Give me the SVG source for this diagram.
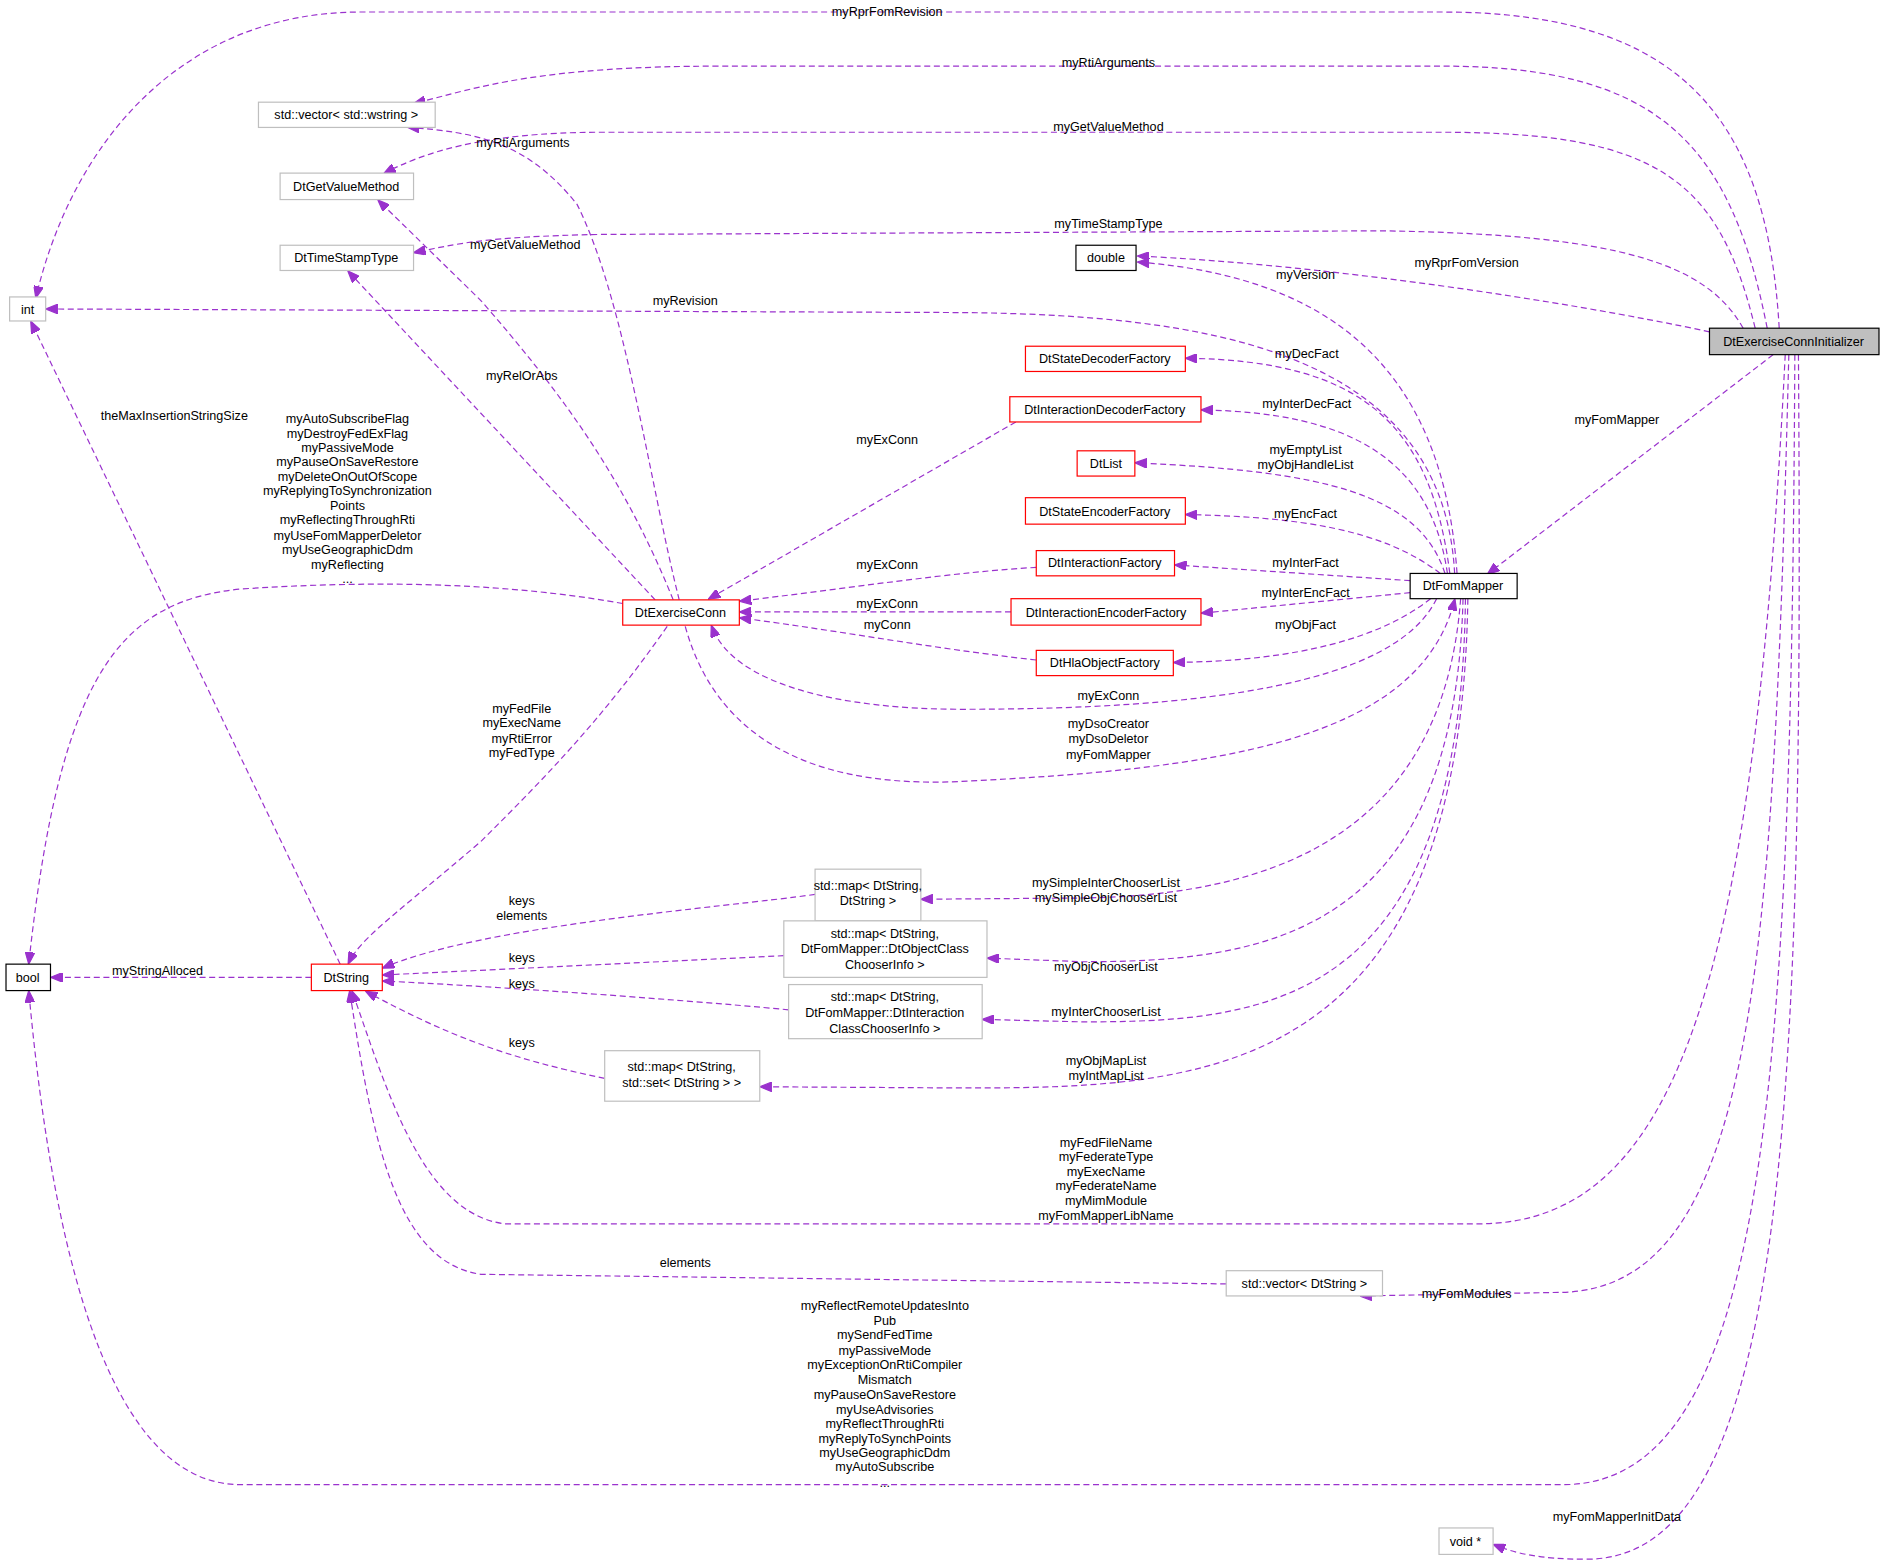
<svg xmlns="http://www.w3.org/2000/svg" width="1885" height="1566" viewBox="0 0 1885 1566">
<style>
text{font-family:"Liberation Sans",Arial,sans-serif;font-size:10.5px;fill:#000}
.n text{text-anchor:middle}
.l{text-anchor:middle}
.g{fill:#fff;stroke:#bfbfbf;stroke-width:1}
.r{fill:#fff;stroke:#ff0000;stroke-width:1}
.b{fill:#fff;stroke:#000;stroke-width:1}
.e path{fill:none;stroke:#9a32cd;stroke-width:1;stroke-dasharray:5,3;marker-end:url(#a)}
</style>
<defs><marker id="a" markerWidth="10" markerHeight="8" refX="9" refY="4" orient="auto" markerUnits="userSpaceOnUse"><path d="M0,0 L10,4 L0,8 z" fill="#9a32cd" stroke="#9a32cd"/></marker></defs>
<rect width="1885" height="1566" fill="#fff"/>
<g transform="scale(1.20217)">
<g class="e" id="edges">
<path d="M1480,273 C1470,100 1400,10 1200,10 L300,10 C150,10 60,120 30,247"/>
<path d="M1470,273 C1440,120 1380,55 1200,55 L600,55 C450,55 400,72 345,86"/>
<path d="M1460,273 C1430,150 1380,110 1200,110 L500,110 C400,110 350,128 320,144"/>
<path d="M1450,273 C1420,220 1350,195 1150,192 L500,195 C400,197 380,203 345,210"/>
<path d="M1422,276 C1300,250 1100,220 947,213"/>
<path d="M1475,295 L1238,477"/>
<path d="M1488,295 C1475,800 1460,1070 1300,1075 L1132,1078"/>
<path d="M1485,295 C1460,800 1400,1018 1230,1018 L420,1018 C350,1010 320,900 293,825"/>
<path d="M1493,295 C1490,900 1470,1235 1300,1235 L200,1235 C80,1235 40,1000 24,825"/>
<path d="M1496,295 C1500,900 1490,1297 1320,1297 C1280,1297 1260,1292 1243,1285"/>
<path d="M1210,477 C1200,290 1000,262 800,260 L39,257"/>
<path d="M1212,477 C1200,300 1100,230 947,218"/>
<path d="M1206,477 C1190,350 1130,300 987,298"/>
<path d="M1204,477 C1190,380 1120,343 1000,341"/>
<path d="M1202,477 C1180,410 1100,392 945,385"/>
<path d="M1198,477 C1150,440 1080,430 987,428"/>
<path d="M1173,483 L978,470"/>
<path d="M1173,493 L1000,510"/>
<path d="M1190,498 C1150,530 1080,550 977,551"/>
<path d="M1195,498 C1160,570 1000,590 800,590 C700,590 610,570 592,521"/>
<path d="M570,521 C600,630 700,655 800,650 C1000,640 1180,620 1210,499"/>
<path d="M1215,498 C1200,700 1050,745 900,747 L767,748"/>
<path d="M1217,498 C1210,780 1050,800 900,800 L822,797"/>
<path d="M1219,498 C1215,840 1050,850 900,850 L818,848"/>
<path d="M1221,498 C1215,900 1000,905 800,905 L633,904"/>
<path d="M565,499 C540,400 520,250 480,170 C440,120 400,110 340,106"/>
<path d="M560,499 C520,400 470,330 400,250 L315,167"/>
<path d="M545,499 L290,226"/>
<path d="M518,502 C450,490 350,480 200,490 C100,500 50,560 24,801"/>
<path d="M555,521 C500,600 450,650 400,700 C330,760 300,780 290,801"/>
<path d="M845,351 L590,498"/>
<path d="M862,472 C800,475 700,490 616,500"/>
<path d="M841,509 L616,509"/>
<path d="M862,549 C780,540 700,525 616,514"/>
<path d="M283,802 L26,268"/>
<path d="M259,813 L43,813"/>
<path d="M678,744 C600,755 400,770 319,805"/>
<path d="M652,795 L319,811"/>
<path d="M656,840 C550,830 400,820 319,816"/>
<path d="M503,897 C420,880 370,860 305,825"/>
<path d="M1020,1068 L400,1060 C330,1050 310,950 291,825"/>
</g>
<g id="labels">
<text class="l" x="738" y="13">myRprFomRevision</text>
<text class="l" x="922" y="56">myRtiArguments</text>
<text class="l" x="922" y="109">myGetValueMethod</text>
<text class="l" x="922" y="190">myTimeStampType</text>
<text class="l" x="1220" y="222">myRprFomVersion</text>
<text class="l" x="1345" y="353">myFomMapper</text>
<text class="l" x="1220" y="1080">myFomModules</text>
<text class="l" x="1345" y="1265">myFomMapperInitData</text>
<text class="l" x="570" y="254">myRevision</text>
<text class="l" x="1086" y="232">myVersion</text>
<text class="l" x="1087" y="298">myDecFact</text>
<text class="l" x="1087" y="339">myInterDecFact</text>
<text class="l" x="1086" y="378">myEmptyList</text>
<text class="l" x="1086" y="390">myObjHandleList</text>
<text class="l" x="1086" y="431">myEncFact</text>
<text class="l" x="1086" y="472">myInterFact</text>
<text class="l" x="1086" y="497">myInterEncFact</text>
<text class="l" x="1086" y="523">myObjFact</text>
<text class="l" x="922" y="582">myExConn</text>
<text class="l" x="922" y="606">myDsoCreator</text>
<text class="l" x="922" y="618">myDsoDeletor</text>
<text class="l" x="922" y="631">myFomMapper</text>
<text class="l" x="920" y="738">mySimpleInterChooserList</text>
<text class="l" x="920" y="750">mySimpleObjChooserList</text>
<text class="l" x="920" y="808">myObjChooserList</text>
<text class="l" x="920" y="845">myInterChooserList</text>
<text class="l" x="920" y="886">myObjMapList</text>
<text class="l" x="920" y="898">myIntMapList</text>
<text class="l" x="920" y="954">myFedFileName</text>
<text class="l" x="920" y="966">myFederateType</text>
<text class="l" x="920" y="978">myExecName</text>
<text class="l" x="920" y="990">myFederateName</text>
<text class="l" x="920" y="1002">myMimModule</text>
<text class="l" x="920" y="1015">myFomMapperLibName</text>
<text class="l" x="570" y="1054">elements</text>
<text class="l" x="736" y="1090">myReflectRemoteUpdatesInto</text>
<text class="l" x="736" y="1102">Pub</text>
<text class="l" x="736" y="1114">mySendFedTime</text>
<text class="l" x="736" y="1127">myPassiveMode</text>
<text class="l" x="736" y="1139">myExceptionOnRtiCompiler</text>
<text class="l" x="736" y="1151">Mismatch</text>
<text class="l" x="736" y="1164">myPauseOnSaveRestore</text>
<text class="l" x="736" y="1176">myUseAdvisories</text>
<text class="l" x="736" y="1188">myReflectThroughRti</text>
<text class="l" x="736" y="1200">myReplyToSynchPoints</text>
<text class="l" x="736" y="1212">myUseGeographicDdm</text>
<text class="l" x="736" y="1224">myAutoSubscribe</text>
<text class="l" x="736" y="1237">...</text>
<text class="l" x="435" y="122">myRtiArguments</text>
<text class="l" x="437" y="207">myGetValueMethod</text>
<text class="l" x="434" y="316">myRelOrAbs</text>
<text class="l" x="738" y="369">myExConn</text>
<text class="l" x="738" y="473">myExConn</text>
<text class="l" x="738" y="506">myExConn</text>
<text class="l" x="738" y="523">myConn</text>
<text class="l" x="145" y="349">theMaxInsertionStringSize</text>
<text class="l" x="289" y="352">myAutoSubscribeFlag</text>
<text class="l" x="289" y="364">myDestroyFedExFlag</text>
<text class="l" x="289" y="376">myPassiveMode</text>
<text class="l" x="289" y="388">myPauseOnSaveRestore</text>
<text class="l" x="289" y="400">myDeleteOnOutOfScope</text>
<text class="l" x="289" y="412">myReplyingToSynchronization</text>
<text class="l" x="289" y="424">Points</text>
<text class="l" x="289" y="436">myReflectingThroughRti</text>
<text class="l" x="289" y="449">myUseFomMapperDeletor</text>
<text class="l" x="289" y="461">myUseGeographicDdm</text>
<text class="l" x="289" y="473">myReflecting</text>
<text class="l" x="289" y="485">...</text>
<text class="l" x="434" y="593">myFedFile</text>
<text class="l" x="434" y="605">myExecName</text>
<text class="l" x="434" y="618">myRtiError</text>
<text class="l" x="434" y="630">myFedType</text>
<text class="l" x="131" y="811">myStringAlloced</text>
<text class="l" x="434" y="753">keys</text>
<text class="l" x="434" y="765">elements</text>
<text class="l" x="434" y="800">keys</text>
<text class="l" x="434" y="822">keys</text>
<text class="l" x="434" y="871">keys</text>
</g>
<g class="n" id="DtExerciseConnInitializer"><rect x="1422" y="273" width="141" height="22" fill="#bfbfbf" stroke="#000"/><text x="1492" y="288">DtExerciseConnInitializer</text></g>
<g class="n" id="int"><rect class="g" x="8" y="247" width="30" height="20"/><text x="23" y="261">int</text></g>
<g class="n" id="vecwstring"><rect class="g" x="215" y="85" width="147" height="21"/><text x="288" y="99">std::vector&lt; std::wstring &gt;</text></g>
<g class="n" id="DtGetValueMethod"><rect class="g" x="233" y="144" width="111" height="22"/><text x="288" y="159">DtGetValueMethod</text></g>
<g class="n" id="DtTimeStampType"><rect class="g" x="233" y="204" width="111" height="21"/><text x="288" y="218">DtTimeStampType</text></g>
<g class="n" id="double"><rect class="b" x="895" y="204" width="50" height="21"/><text x="920" y="218">double</text></g>
<g class="n" id="DtStateDecoderFactory"><rect class="r" x="853" y="288" width="133" height="21"/><text x="919" y="302">DtStateDecoderFactory</text></g>
<g class="n" id="DtInteractionDecoderFactory"><rect class="r" x="840" y="330" width="159" height="21"/><text x="919" y="344">DtInteractionDecoderFactory</text></g>
<g class="n" id="DtList"><rect class="r" x="896" y="375" width="48" height="21"/><text x="920" y="389">DtList</text></g>
<g class="n" id="DtStateEncoderFactory"><rect class="r" x="853" y="414" width="133" height="22"/><text x="919" y="429">DtStateEncoderFactory</text></g>
<g class="n" id="DtInteractionFactory"><rect class="r" x="862" y="458" width="115" height="21"/><text x="919" y="472">DtInteractionFactory</text></g>
<g class="n" id="DtInteractionEncoderFactory"><rect class="r" x="841" y="498" width="158" height="22"/><text x="920" y="513">DtInteractionEncoderFactory</text></g>
<g class="n" id="DtHlaObjectFactory"><rect class="r" x="862" y="541" width="114" height="21"/><text x="919" y="555">DtHlaObjectFactory</text></g>
<g class="n" id="DtFomMapper"><rect class="b" x="1173" y="477" width="89" height="21"/><text x="1217" y="491">DtFomMapper</text></g>
<g class="n" id="DtExerciseConn"><rect class="r" x="518" y="499" width="97" height="21"/><text x="566" y="513">DtExerciseConn</text></g>
<g class="n" id="bool"><rect class="b" x="5" y="802" width="37" height="22"/><text x="23" y="817">bool</text></g>
<g class="n" id="DtString"><rect class="r" x="259" y="802" width="59" height="22"/><text x="288" y="817">DtString</text></g>
<g class="n" id="map1"><rect class="g" x="678" y="723" width="88" height="43"/><text x="722" y="740">std::map&lt; DtString,</text><text x="722" y="753">DtString &gt;</text></g>
<g class="n" id="map2"><rect class="g" x="652" y="766" width="169" height="47"/><text x="736" y="780">std::map&lt; DtString,</text><text x="736" y="793">DtFomMapper::DtObjectClass</text><text x="736" y="806">ChooserInfo &gt;</text></g>
<g class="n" id="map3"><rect class="g" x="656" y="819" width="161" height="45"/><text x="736" y="833">std::map&lt; DtString,</text><text x="736" y="846">DtFomMapper::DtInteraction</text><text x="736" y="859">ClassChooserInfo &gt;</text></g>
<g class="n" id="map4"><rect class="g" x="503" y="874" width="129" height="42"/><text x="567" y="891">std::map&lt; DtString,</text><text x="567" y="904">std::set&lt; DtString &gt; &gt;</text></g>
<g class="n" id="vecDtString"><rect class="g" x="1020" y="1057" width="130" height="21"/><text x="1085" y="1071">std::vector&lt; DtString &gt;</text></g>
<g class="n" id="voidptr"><rect class="g" x="1197" y="1271" width="45" height="22"/><text x="1219" y="1286">void *</text></g>
</g>
</svg>
